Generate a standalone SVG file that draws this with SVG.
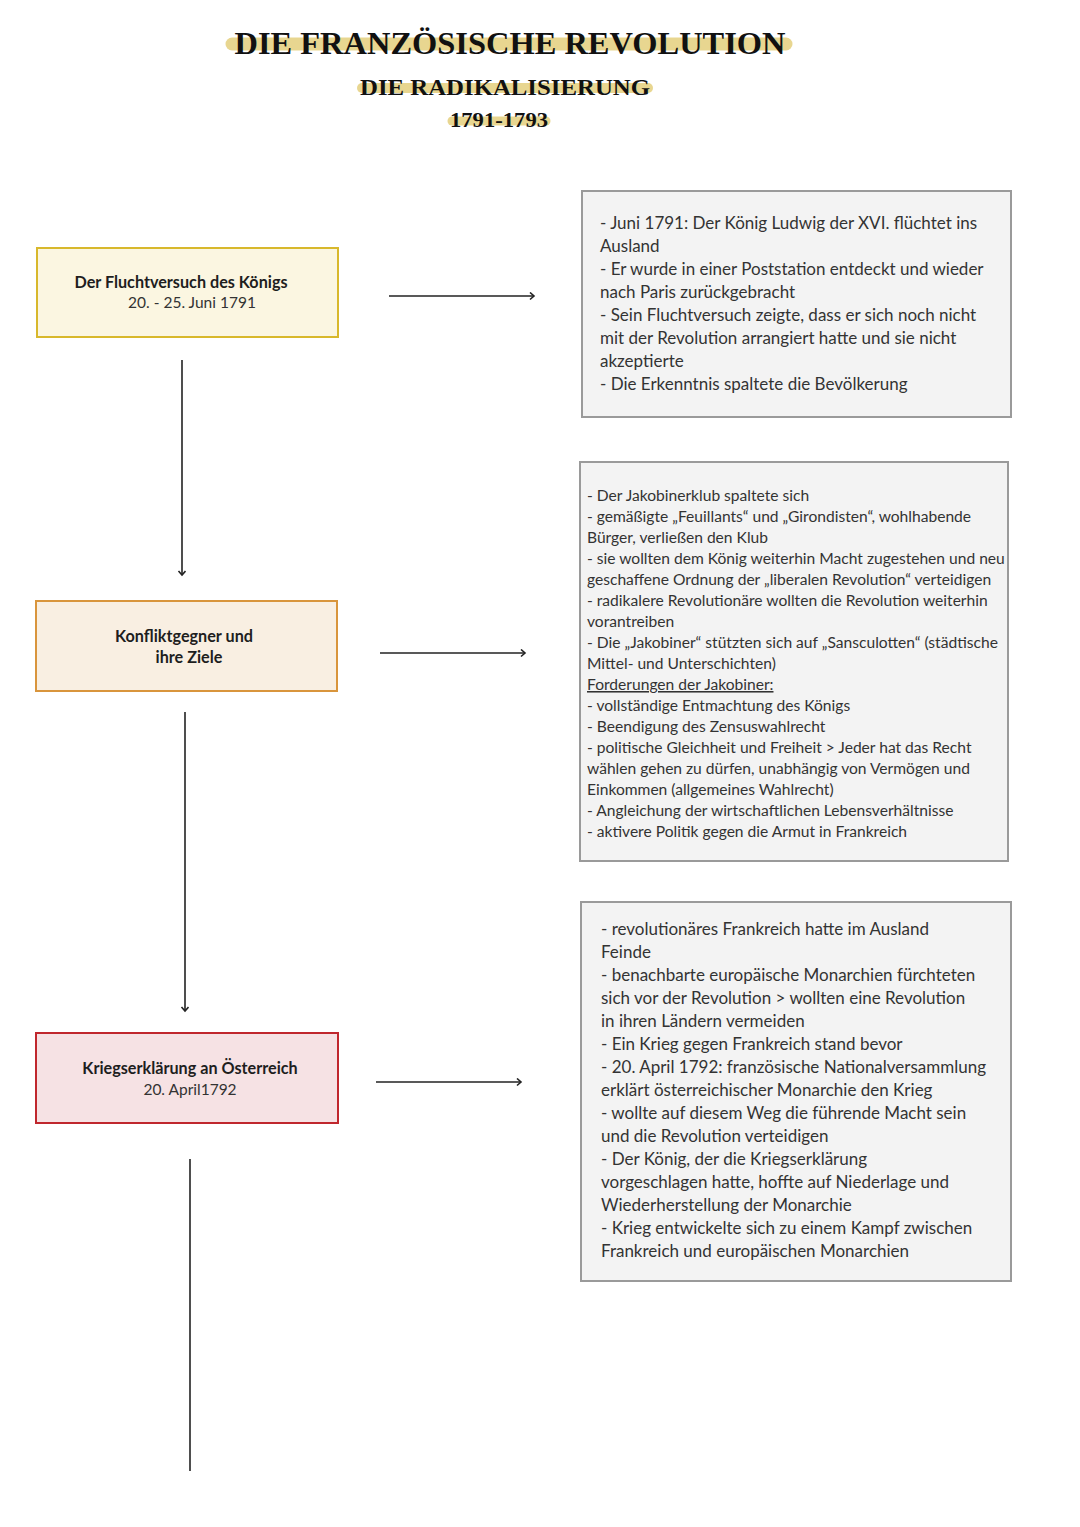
<svg xmlns="http://www.w3.org/2000/svg" width="1080" height="1527" viewBox="0 0 1080 1527">
<style>
.title{font-family:"Liberation Serif",serif;font-weight:bold;fill:#111;text-anchor:middle}
.hl{stroke:#e6d184;stroke-linecap:round;fill:none;opacity:0.9}
.nb{font-family:Lato,"Noto Sans",sans-serif;font-weight:bold;font-size:16.2px;fill:#1e1e1e;text-anchor:middle}
.nr{font-family:Lato,"Noto Sans",sans-serif;font-size:15.5px;fill:#333;text-anchor:middle}
.info{fill:#f3f3f3;stroke:#9a9a9a;stroke-width:2}
.t16{font-family:Lato,"Noto Sans",sans-serif;font-size:17px;fill:#333}
.t14{font-family:Lato,"Noto Sans",sans-serif;font-size:15.6px;fill:#333}
.conn{stroke:#222;stroke-width:1.6;fill:none}
</style>
<defs>
<marker id="ah" markerWidth="10" markerHeight="10" refX="6" refY="4" orient="auto" markerUnits="userSpaceOnUse">
<polyline points="2,0.5 6,4 2,7.5" fill="none" stroke="#222" stroke-width="1.6"/>
</marker>
</defs>
<rect width="1080" height="1527" fill="#ffffff"/>
<g id="title">
<line class="hl" x1="232" y1="44" x2="786" y2="44" stroke-width="13"/>
<line class="hl" x1="362" y1="88" x2="648" y2="88" stroke-width="10"/>
<line class="hl" x1="452" y1="121" x2="546" y2="121" stroke-width="9"/>
<text class="title" x="510" y="54" font-size="32" textLength="551" lengthAdjust="spacingAndGlyphs">DIE FRANZÖSISCHE REVOLUTION</text>
<text class="title" x="505" y="95" font-size="24" textLength="290" lengthAdjust="spacingAndGlyphs">DIE RADIKALISIERUNG</text>
<text class="title" x="499" y="127" font-size="21" textLength="98" lengthAdjust="spacingAndGlyphs">1791-1793</text>
</g>
<g id="connectors">
<line class="conn" x1="389" y1="296" x2="534" y2="296" marker-end="url(#ah)"/>
<line class="conn" x1="380" y1="653" x2="525" y2="653" marker-end="url(#ah)"/>
<line class="conn" x1="376" y1="1082" x2="521" y2="1082" marker-end="url(#ah)"/>
<line class="conn" x1="182" y1="360" x2="182" y2="575" marker-end="url(#ah)"/>
<line class="conn" x1="185" y1="712" x2="185" y2="1011" marker-end="url(#ah)"/>
<line class="conn" x1="190" y1="1159" x2="190" y2="1471"/>
</g>
<g id="node-flucht">
<rect x="37" y="248" width="301" height="89" fill="#fbf6e1" stroke="#d8b82c" stroke-width="2"/>
<text class="nb" x="181" y="288">Der Fluchtversuch des Königs</text>
<text class="nr" x="192" y="308">20. - 25. Juni 1791</text>
</g>
<g id="node-konflikt">
<rect x="36" y="601" width="301" height="90" fill="#f9efe2" stroke="#d9953c" stroke-width="2"/>
<text class="nb" x="184" y="642">Konfliktgegner und</text>
<text class="nb" x="189" y="663">ihre Ziele</text>
</g>
<g id="node-krieg">
<rect x="36" y="1033" width="302" height="90" fill="#f6e2e4" stroke="#c0272d" stroke-width="2"/>
<text class="nb" x="190" y="1074">Kriegserklärung an Österreich</text>
<text class="nr" x="190" y="1095">20. April1792</text>
</g>
<g id="info-flucht">
<rect class="info" x="582" y="191" width="429" height="226"/>
<text class="t16" x="600">
<tspan x="600" y="229">- Juni 1791: Der König Ludwig der XVI. flüchtet ins</tspan>
<tspan x="600" y="252">Ausland</tspan>
<tspan x="600" y="275">- Er wurde in einer Poststation entdeckt und wieder</tspan>
<tspan x="600" y="298">nach Paris zurückgebracht</tspan>
<tspan x="600" y="321">- Sein Fluchtversuch zeigte, dass er sich noch nicht</tspan>
<tspan x="600" y="344">mit der Revolution arrangiert hatte und sie nicht</tspan>
<tspan x="600" y="367">akzeptierte</tspan>
<tspan x="600" y="390">- Die Erkenntnis spaltete die Bevölkerung</tspan>
</text>
</g>
<g id="info-konflikt">
<rect class="info" x="580" y="462" width="428" height="399"/>
<text class="t14">
<tspan x="587" y="501">- Der Jakobinerklub spaltete sich</tspan>
<tspan x="587" y="522">- gemäßigte „Feuillants“ und „Girondisten“, wohlhabende</tspan>
<tspan x="587" y="543">Bürger, verließen den Klub</tspan>
<tspan x="587" y="564">- sie wollten dem König weiterhin Macht zugestehen und neu</tspan>
<tspan x="587" y="585">geschaffene Ordnung der „liberalen Revolution“ verteidigen</tspan>
<tspan x="587" y="606">- radikalere Revolutionäre wollten die Revolution weiterhin</tspan>
<tspan x="587" y="627">vorantreiben</tspan>
<tspan x="587" y="648">- Die „Jakobiner“ stützten sich auf „Sansculotten“ (städtische</tspan>
<tspan x="587" y="669">Mittel- und Unterschichten)</tspan>
<tspan x="587" y="690" text-decoration="underline">Forderungen der Jakobiner:</tspan>
<tspan x="587" y="711">- vollständige Entmachtung des Königs</tspan>
<tspan x="587" y="732">- Beendigung des Zensuswahlrecht</tspan>
<tspan x="587" y="753">- politische Gleichheit und Freiheit &gt; Jeder hat das Recht</tspan>
<tspan x="587" y="774">wählen gehen zu dürfen, unabhängig von Vermögen und</tspan>
<tspan x="587" y="795">Einkommen (allgemeines Wahlrecht)</tspan>
<tspan x="587" y="816">- Angleichung der wirtschaftlichen Lebensverhältnisse</tspan>
<tspan x="587" y="837">- aktivere Politik gegen die Armut in Frankreich</tspan>
</text>
</g>
<g id="info-krieg">
<rect class="info" x="581" y="902" width="430" height="379"/>
<text class="t16">
<tspan x="601" y="935">- revolutionäres Frankreich hatte im Ausland</tspan>
<tspan x="601" y="958">Feinde</tspan>
<tspan x="601" y="981">- benachbarte europäische Monarchien fürchteten</tspan>
<tspan x="601" y="1004">sich vor der Revolution &gt; wollten eine Revolution</tspan>
<tspan x="601" y="1027">in ihren Ländern vermeiden</tspan>
<tspan x="601" y="1050">- Ein Krieg gegen Frankreich stand bevor</tspan>
<tspan x="601" y="1073">- 20. April 1792: französische Nationalversammlung</tspan>
<tspan x="601" y="1096">erklärt österreichischer Monarchie den Krieg</tspan>
<tspan x="601" y="1119">- wollte auf diesem Weg die führende Macht sein</tspan>
<tspan x="601" y="1142">und die Revolution verteidigen</tspan>
<tspan x="601" y="1165">- Der König, der die Kriegserklärung</tspan>
<tspan x="601" y="1188">vorgeschlagen hatte, hoffte auf Niederlage und</tspan>
<tspan x="601" y="1211">Wiederherstellung der Monarchie</tspan>
<tspan x="601" y="1234">- Krieg entwickelte sich zu einem Kampf zwischen</tspan>
<tspan x="601" y="1257">Frankreich und europäischen Monarchien</tspan>
</text>
</g>
</svg>
